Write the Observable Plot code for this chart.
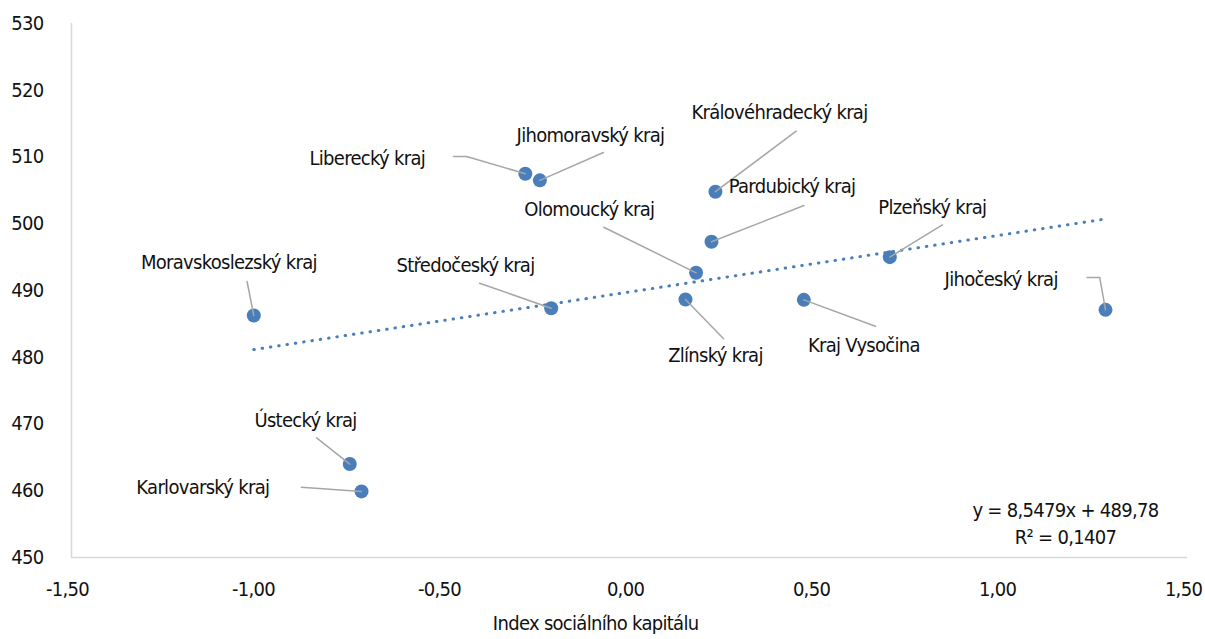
<!DOCTYPE html>
<html><head><meta charset="utf-8">
<script src="https://cdn.jsdelivr.net/npm/d3@7"></script>
<script src="https://cdn.jsdelivr.net/npm/@observablehq/plot@0.6"></script>
<style>body{margin:0;background:#fff} svg text{letter-spacing:-0.7px}</style>
</head><body><div id="chart"></div>
<script>
// ---- data ----
const regions = ["Moravskoslezský kraj","Liberecký kraj","Jihomoravský kraj","Středočeský kraj","Olomoucký kraj","Královéhradecký kraj","Pardubický kraj","Plzeňský kraj","Zlínský kraj","Kraj Vysočina","Jihočeský kraj","Ústecký kraj","Karlovarský kraj"];
const socialCapital = [-1.010,-0.280,-0.241,-0.2105,0.179,0.231,0.2204,0.6997,0.1505,0.4686,1.2796,-0.752,-0.7204];
const scores = [486.25,507.5,506.5,487.35,492.65,504.8,497.3,495.0,488.65,488.6,487.1,464.0,459.9];
const xTicks = [-1.5,-1,-0.5,0,0.5,1,1.5];
const yTicks = [450,460,470,480,490,500,510,520,530];
const trendSlope = 8.5479;
const trendIntercept = 489.78;
const equationLines = "y = 8,5479x + 489,78\nR² = 0,1407";
const xTitle = "Index sociálního kapitálu";

// ---- annotation layout (data coordinates) ----
const labelLayout = [
  {tx:-1.077, ty:494.19, path:[[-1.028,491.35]]},
  {tx:-0.705, ty:509.78, path:[[-0.473,510.07],[-0.438,510.07]]},
  {tx:-0.105, ty:513.22, path:[[-0.070,510.67]]},
  {tx:-0.441, ty:493.74, path:[[-0.403,491.09]]},
  {tx:-0.108, ty:502.13, path:[[-0.069,499.48]]},
  {tx:0.403, ty:516.67, path:[[0.448,513.87]]},
  {tx:0.437, ty:505.58, path:[[0.469,502.73]]},
  {tx:0.814, ty:502.43, path:[[0.841,499.84]]},
  {tx:0.231, ty:480.26, path:[[0.253,482.76]]},
  {tx:0.630, ty:481.76, path:[[0.661,484.65]]},
  {tx:0.999, ty:491.65, path:[[1.230,491.95],[1.264,491.95]]},
  {tx:-0.871, ty:470.52, path:[[-0.841,467.93]]},
  {tx:-1.147, ty:460.49, path:[[-0.882,460.53]]}
];
const equationPos = {x:1.172, y:455.3};
const titleX = -0.091;

const points = regions.map((r,i)=>({region:r, x:socialCapital[i], y:scores[i]}));
const labels = points.map((p,i)=>({...p, tx:labelLayout[i].tx, ty:labelLayout[i].ty}));
const leaders = [];
points.forEach((p,i)=>{
  labelLayout[i].path.forEach(([x,y])=>leaders.push({region:p.region,x,y}));
  leaders.push({region:p.region,x:p.x,y:p.y});
});
const xMin = d3.min(socialCapital), xMax = d3.max(socialCapital);
const trend = [xMin,xMax].map(x=>({x, y: trendIntercept + trendSlope*x}));
const fmt = v => v.toFixed(2).replace(".", ",").replace("−","-");

const FONT = '"Liberation Sans Narrow","DejaVu Sans Condensed","Roboto Condensed",sans-serif';
const BLUE = "#4a7ebb";
const GRAY = "#a6a6a6";
const FS = 20;

const chart = Plot.plot({
  width:1205, height:639,
  marginLeft:71, marginRight:18, marginTop:23, marginBottom:82,
  style:{fontFamily:FONT, fontSize:FS+"px", color:"#111", background:"#fff"},
  x:{domain:[-1.5,1.5]},
  y:{domain:[450,530]},
  marks:[
    Plot.ruleX([-1.5],{y1:450,y2:530,stroke:"#d9d9d9",strokeWidth:1.6}),
    Plot.ruleY([450],{x1:-1.5,x2:1.5,stroke:"#d9d9d9",strokeWidth:1.6}),
    Plot.axisX({ticks:xTicks, tickFormat:fmt, tickSize:0, tickPadding:24, label:null, fontSize:FS, dx:-4}),
    Plot.axisY({ticks:yTicks, tickFormat:d=>String(d), tickSize:0, tickPadding:28, label:null, fontSize:FS}),
    Plot.dot(points,{x:"x",y:"y",r:7,fill:BLUE,stroke:"none"}),
    Plot.line(trend,{x:"x",y:"y",stroke:BLUE,strokeWidth:3,strokeDasharray:"0.5 7.9",strokeLinecap:"round"}),
    Plot.line(leaders,{x:"x",y:"y",z:"region",stroke:GRAY,strokeWidth:1.5}),
    Plot.text(labels,{x:"tx",y:"ty",text:"region",fontSize:FS,fill:"#111",textAnchor:"middle"}),
    Plot.text([equationLines],{x:()=>equationPos.x,y:()=>equationPos.y,text:d=>d,fontSize:FS,fill:"#111",textAnchor:"middle",lineHeight:1.35}),
    Plot.text([xTitle],{x:()=>titleX,frameAnchor:"bottom",dy:72,text:d=>d,fontSize:FS,fill:"#111",textAnchor:"middle"})
  ]
});
document.getElementById("chart").appendChild(chart);
</script>
</body></html>
